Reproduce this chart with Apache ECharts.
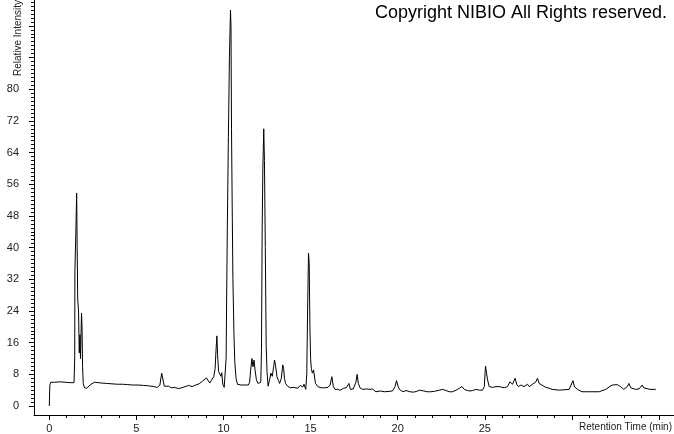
<!DOCTYPE html>
<html>
<head>
<meta charset="utf-8">
<script src="https://cdn.jsdelivr.net/npm/echarts@6/dist/echarts.min.js"></script>
<style>
html,body{margin:0;padding:0;background:#fff;}
#chart{width:674px;height:434px;}
</style>
</head>
<body>
<div id="chart"></div>
<script>
// Retention time (min)
const times = [
0.00,0.03,0.08,0.30,0.60,0.90,1.20,1.42,1.46,1.47,1.53,1.57,1.60,1.63,1.68,1.72,1.76,1.79,1.85,1.88,1.91,1.95,2.02,2.14,2.25,2.40,2.60,2.80,3.00,3.30,3.60,3.90,4.20,4.50,4.80,5.10,5.40,5.70,6.00,6.20,6.35,6.45,6.52,6.60,6.70,6.85,7.00,7.20,7.40,7.60,7.80,8.00,8.20,8.40,8.60,8.80,9.02,9.09,9.21,9.35,9.44,9.52,9.57,9.62,9.66,9.72,9.78,9.85,9.90,9.96,10.04,10.10,10.15,10.18,10.22,10.28,10.34,10.40,10.43,10.46,10.50,10.54,10.60,10.65,10.72,10.80,10.90,11.00,11.10,11.20,11.31,11.42,11.50,11.56,11.63,11.69,11.75,11.81,11.89,11.98,12.08,12.14,12.18,12.22,12.26,12.31,12.35,12.40,12.45,12.50,12.56,12.64,12.72,12.80,12.88,12.93,12.98,13.07,13.15,13.22,13.32,13.40,13.45,13.50,13.56,13.70,13.85,14.00,14.10,14.27,14.40,14.46,14.55,14.62,14.72,14.78,14.83,14.88,14.92,14.96,15.00,15.04,15.10,15.17,15.28,15.42,15.60,15.80,16.00,16.12,16.22,16.30,16.40,16.55,16.70,16.90,17.05,17.20,17.28,17.45,17.60,17.67,17.74,17.85,18.00,18.20,18.40,18.55,18.75,19.00,19.25,19.50,19.70,19.85,19.93,20.02,20.10,20.30,20.48,20.70,20.90,21.10,21.25,21.35,21.50,21.70,21.90,22.10,22.39,22.58,22.78,22.96,23.15,23.35,23.54,23.69,23.82,24.01,24.15,24.30,24.49,24.58,24.68,24.87,24.97,25.04,25.10,25.16,25.25,25.35,25.44,25.64,25.83,25.93,26.11,26.30,26.44,26.50,26.59,26.74,26.83,26.93,27.07,27.25,27.45,27.55,27.74,27.93,28.02,28.12,28.22,28.50,28.69,28.87,29.27,29.84,29.95,30.06,30.15,30.32,30.58,30.99,31.56,31.94,32.13,32.32,32.60,32.79,32.98,33.18,33.27,33.38,33.47,33.66,33.85,34.04,34.12,34.23,34.48,34.81
];
// Relative intensity
const intensity = [
0,5.2,6.0,6.0,6.1,6.0,5.9,5.9,12.4,34,45,53.8,40,27,24,13.4,18,12,23.5,20,10,5.7,4.6,4.5,5.0,5.5,6.0,5.9,5.8,5.7,5.6,5.5,5.5,5.4,5.3,5.3,5.2,5.1,4.9,4.7,5.3,8.3,6.8,5.0,4.6,5.0,4.6,4.7,4.4,4.6,4.9,5.2,4.9,5.3,5.6,6.3,7.1,7.3,5.8,6.8,7.4,9.5,14,17.7,13,8.7,9.1,7.5,8.4,5.5,4.7,4.8,12,27,45,68,88,100,96,70,50,32,18,11,7,5.5,5.2,5.3,5.8,5.3,4.9,5.3,6.0,9.1,12.0,9.9,11.6,9.1,6.6,5.7,5.2,6.0,14,45,60,70,62,40,15,8.5,5.0,6.5,8.3,7.5,10,11.6,10.5,7.4,6.5,5.7,7,10.4,9.5,7,5.7,4.9,4.6,4.7,4.4,4.5,5.2,5.7,4.8,5.5,4.2,8,25,38.6,36,20,12,9.5,8.3,9.1,5.7,4.9,4.6,4.6,4.7,5.3,7.4,5.0,4.2,4.2,4.0,4.5,4.6,5.7,4.2,4.3,6.0,8.0,5.7,4.5,4.2,4.3,4.2,4.3,3.6,3.8,3.6,3.7,3.8,4.9,6.4,5.0,4.2,3.6,3.9,3.6,3.5,3.7,4.0,4.2,3.8,3.6,3.6,3.7,4.0,4.2,3.9,3.6,3.6,4.0,4.5,4.9,4.2,3.9,3.8,3.9,4.2,4.7,4.0,4.0,4.9,10.1,8.3,6.6,4.9,4.6,4.7,4.9,4.9,5.3,4.6,4.9,6.1,6.6,5.5,7.0,5.5,4.9,5.3,4.9,5.5,4.9,5.5,6.1,7.0,5.7,5.3,4.7,4.5,4.2,4.0,4.2,4.5,6.4,4.8,4.2,3.6,3.6,3.6,4.2,4.8,5.3,5.4,4.9,4.2,4.9,5.7,4.6,4.2,4.2,4.3,5.3,4.6,4.2,4.2,4.2
];
// Tick values
const xMajorTicks = [0,5,10,15,20,25,30,35];
const xTickLabels = [0,5,10,15,20,25];
const yMajorTicks = [0,8,16,24,32,40,48,56,64,72,80,88,96];
const yTickLabels = [0,8,16,24,32,40,48,56,64,72,80];

const xMinor = [];
for (let v = 0; v <= 35; v += 1) if (v % 5 !== 0) xMinor.push(v);
const yMinor = [];
for (let v = 0; v <= 102; v += 1) if (v % 8 !== 0) yMinor.push(v);

const X_MIN = -0.878, X_MAX = 35.86;
const Y_MIN = -2.27, Y_MAX = 102.53;

const seriesData = times.map((t, i) => [t, intensity[i]]);

const labelFont = { fontFamily: 'Liberation Sans, Arial, sans-serif', fontSize: 11, color: '#222' };

const chart = echarts.init(document.getElementById('chart'), null, { renderer: 'canvas' });
chart.setOption({
  animation: false,
  backgroundColor: '#fff',
  grid: { left: 34, right: 0, top: 0, bottom: 19, containLabel: false, outerBoundsMode: 'none' },
  xAxis: [
    {
      type: 'value', min: X_MIN, max: X_MAX, position: 'bottom',
      axisLine: { show: true, onZero: false, lineStyle: { color: '#000', width: 1 } },
      axisTick: { show: true, customValues: xMajorTicks, length: 5, inside: false, lineStyle: { color: '#000' } },
      axisLabel: Object.assign({ show: true, customValues: xTickLabels, margin: 8 }, labelFont),
      splitLine: { show: false }
    },
    {
      type: 'value', min: X_MIN, max: X_MAX, position: 'bottom',
      axisLine: { show: false, onZero: false },
      axisTick: { show: true, customValues: xMinor, length: 3, inside: false, lineStyle: { color: '#000' } },
      axisLabel: { show: false },
      splitLine: { show: false }
    }
  ],
  yAxis: [
    {
      type: 'value', min: Y_MIN, max: Y_MAX, position: 'left',
      axisLine: { show: true, onZero: false, lineStyle: { color: '#000', width: 1 } },
      axisTick: { show: true, customValues: yMajorTicks, length: 5, inside: false, lineStyle: { color: '#000' } },
      axisLabel: Object.assign({ show: true, customValues: yTickLabels, margin: 15 }, labelFont),
      splitLine: { show: false }
    },
    {
      type: 'value', min: Y_MIN, max: Y_MAX, position: 'left',
      axisLine: { show: false, onZero: false },
      axisTick: { show: true, customValues: yMinor, length: 3, inside: false, lineStyle: { color: '#000' } },
      axisLabel: { show: false },
      splitLine: { show: false }
    }
  ],
  series: [{
    type: 'line',
    xAxisIndex: 0, yAxisIndex: 0,
    data: seriesData,
    showSymbol: false,
    symbol: 'none',
    lineStyle: { color: '#000', width: 1 },
    silent: true
  }],
  graphic: [
    {
      type: 'text', left: null, x: 18.5, y: 38, rotation: Math.PI / 2,
      style: { text: 'Relative Intensity', fontFamily: 'Liberation Sans, Arial, sans-serif', fontSize: 10, fill: '#222', textAlign: 'center', textVerticalAlign: 'middle' }
    },
    {
      type: 'text', x: 672, y: 427,
      style: { text: 'Retention Time (min)', fontFamily: 'Liberation Sans, Arial, sans-serif', fontSize: 10, fill: '#222', textAlign: 'right', textVerticalAlign: 'middle' }
    },
    {
      type: 'text', x: 667, y: 13.5,
      style: { text: 'Copyright NIBIO All Rights reserved.', fontFamily: 'Liberation Sans, Arial, sans-serif', fontSize: 18, fill: '#000', textAlign: 'right', textVerticalAlign: 'middle' }
    }
  ]
});
</script>
</body>
</html>
